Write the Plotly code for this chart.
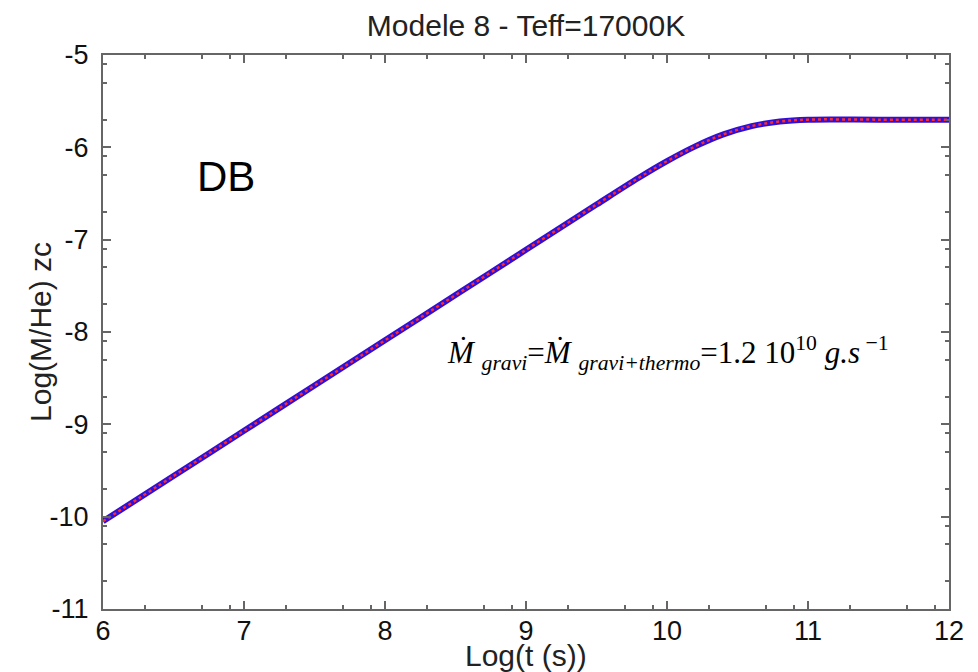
import plotly.graph_objects as go

# Data
log_t = [6.0, 6.5, 7.0, 7.5, 8.0, 8.5, 9.0, 9.5, 9.8, 10.0, 10.2, 10.4, 10.6, 10.8, 11.0, 11.5, 12.0]
log_mhe = [-10.05, -9.56, -9.07, -8.58, -8.09, -7.60, -7.11, -6.62, -6.33, -6.15, -5.99, -5.86,
           -5.77, -5.72, -5.70, -5.70, -5.70]

x_ticks = [6, 7, 8, 9, 10, 11, 12]
y_ticks = [-5, -6, -7, -8, -9, -10, -11]
minor_frac = [0.30103, 0.69897, 0.90309]
x_minor = [n + f for n in range(6, 12) for f in minor_frac]
y_minor = [n + f for n in range(-11, -5) for f in minor_frac]

title_text = "Modele 8 - Teff=17000K"
x_title = "Log(t (s))"
y_title = "Log(M/He) zc"
label_db = "DB"
eq_text = ("<i>Ṁ</i> <sub><i>gravi</i></sub>=<i>Ṁ</i> <sub><i>gravi+thermo</i></sub>"
           "=1.2 10<sup>10</sup> <i>g.s</i><sup> −1</sup>")

fig = go.Figure()
fig.add_trace(go.Scatter(x=log_t, y=log_mhe, mode="lines", line=dict(color="#3010d8", width=6),
                         line_shape="spline", showlegend=False, hoverinfo="skip"))
fig.add_trace(go.Scatter(x=log_t, y=log_mhe, mode="lines", line=dict(color="#ff2a2a", width=2.5, dash="dot"),
                         line_shape="spline", showlegend=False, hoverinfo="skip"))

axis_common = dict(showline=True, linecolor="#666666", linewidth=2, mirror="ticks",
                   ticks="inside", ticklen=8, tickwidth=1.5, tickcolor="#666666",
                   showgrid=False, zeroline=False, automargin=False,
                   tickfont=dict(family="Liberation Sans, Arial", size=27, color="#111111"))

title_font = dict(family="Liberation Sans, Arial", size=30, color="#222222")

fig.update_layout(
    width=978, height=672,
    margin=dict(l=103, r=29, t=55, b=63),
    paper_bgcolor="white", plot_bgcolor="white",
    title=dict(text=title_text, x=0.5, xref="paper", y=0.962, yanchor="middle",
               font=dict(family="Liberation Sans, Arial", size=30, color="#222222")),
    xaxis=dict(range=[6, 12], tickvals=x_ticks, ticktext=[str(v) for v in x_ticks],
               ticklabelstandoff=-3,
               minor=dict(tickvals=x_minor, ticks="inside", ticklen=4, tickcolor="#666666", tickwidth=1.5),
               **axis_common),
    yaxis=dict(range=[-11, -5], tickvals=y_ticks, ticktext=[str(v) for v in y_ticks],
               ticklabelstandoff=7,
               minor=dict(tickvals=y_minor, ticks="inside", ticklen=4, tickcolor="#666666", tickwidth=1.5),
               **axis_common),
    annotations=[
        dict(x=0.5, y=-0.0848, xref="paper", yref="paper", text=x_title, showarrow=False,
             xanchor="center", yanchor="middle", font=title_font),
        dict(x=-0.0745, y=0.5, xref="paper", yref="paper", text=y_title, showarrow=False,
             textangle=-90, xanchor="center", yanchor="middle", font=title_font),
        dict(x=6.87, y=-6.32, xref="x", yref="y", text=label_db, showarrow=False,
             font=dict(family="Liberation Sans, Arial", size=42, color="black")),
        dict(x=10.01, y=-8.23, xref="x", yref="y", text=eq_text, showarrow=False,
             font=dict(family="Liberation Serif, Times New Roman", size=31, color="black")),
    ],
)

fig.write_html("out.html")
